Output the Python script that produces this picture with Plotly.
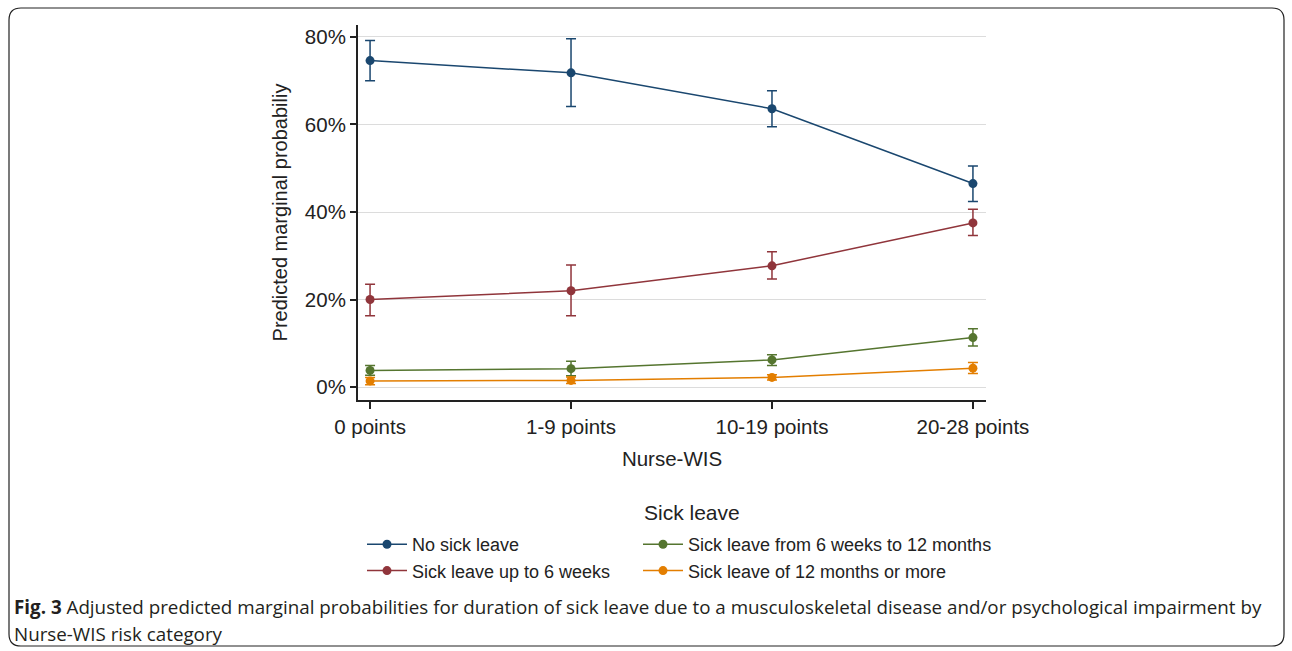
import plotly.graph_objects as go

categories = ["0 points", "1-9 points", "10-19 points", "20-28 points"]
series_names = ["No sick leave", "Sick leave up to 6 weeks",
                "Sick leave from 6 weeks to 12 months", "Sick leave of 12 months or more"]
no_sick = [74.6, 71.8, 63.6, 46.5]
no_sick_hi = [79.2, 79.6, 67.7, 50.5]
no_sick_lo = [70.0, 64.1, 59.5, 42.4]
up6 = [20.0, 22.0, 27.7, 37.5]
up6_hi = [23.5, 27.9, 30.9, 40.6]
up6_lo = [16.3, 16.3, 24.7, 34.6]
w6_12 = [3.8, 4.2, 6.2, 11.3]
w6_12_hi = [4.9, 5.9, 7.4, 13.3]
w6_12_lo = [2.7, 2.6, 4.9, 9.4]
m12 = [1.4, 1.5, 2.2, 4.3]
m12_hi = [2.2, 2.3, 2.8, 5.6]
m12_lo = [0.5, 0.8, 1.6, 3.1]
colors = ["#1a476f", "#90353b", "#55752f", "#e37e00"]
legend_ids = ["legend", "legend", "legend2", "legend2"]

W, H = 1292, 651
L, R, T, B = 358, 306, 25, 251
PW, PH = W - L - R, H - T - B

def px2paper(x, y):
    return (x - L) / PW, (H - B - y) / PH

fig = go.Figure()
data = [(no_sick, no_sick_hi, no_sick_lo), (up6, up6_hi, up6_lo),
        (w6_12, w6_12_hi, w6_12_lo), (m12, m12_hi, m12_lo)]
for i, (name, (v, hi, lo), c, lg) in enumerate(zip(series_names, data, colors, legend_ids)):
    fig.add_trace(go.Scatter(
        x=list(range(len(categories))), y=v, name=name, mode="lines+markers",
        legend=lg, legendgroup=f"g{i}",
        line=dict(color=c, width=1.5),
        marker=dict(color=c, size=9, symbol="circle"),
        error_y=dict(type="data", symmetric=False,
                     array=[h - m for h, m in zip(hi, v)],
                     arrayminus=[m - l for m, l in zip(v, lo)],
                     color=c, thickness=1.5, width=5),
    ))

# Figure border (rounded rectangle)
r = 12
x0, y0, x1, y1 = 9, 8, 1284, 646
def P(x, y):
    a, b = px2paper(x, y)
    return f"{a:.5f},{b:.5f}"
path = (f"M {P(x0 + r, y0)} L {P(x1 - r, y0)} Q {P(x1, y0)} {P(x1, y0 + r)} "
        f"L {P(x1, y1 - r)} Q {P(x1, y1)} {P(x1 - r, y1)} "
        f"L {P(x0 + r, y1)} Q {P(x0, y1)} {P(x0, y1 - r)} "
        f"L {P(x0, y0 + r)} Q {P(x0, y0)} {P(x0 + r, y0)} Z")
fig.add_shape(type="path", path=path, xref="paper", yref="paper",
              line=dict(color="#222222", width=1.2), layer="below")

caption_lines = [
    "<b>Fig. 3</b> Adjusted predicted marginal probabilities for duration of sick leave due to a musculoskeletal disease and/or psychological impairment by",
    "Nurse-WIS risk category",
]
for text, ypx in zip(caption_lines, [607, 634]):
    cx, cy = px2paper(12, ypx)
    fig.add_annotation(
        x=cx, y=cy, xref="paper", yref="paper", xanchor="left", yanchor="middle",
        align="left", showarrow=False, text=text,
        font=dict(family="Open Sans, Liberation Sans", size=18.8, color="#231f20"),
    )

tx, ty = px2paper(692, 512)
fig.add_annotation(x=tx, y=ty, xref="paper", yref="paper", xanchor="center", yanchor="middle",
                   showarrow=False, text="Sick leave", font=dict(size=21, color="#222222"))

l1x, l1y = px2paper(362, 526)
l2x, l2y = px2paper(638, 526)
legend_common = dict(orientation="v", yanchor="top", xanchor="left",
                     font=dict(size=18, color="#222222"), tracegroupgap=0,
                     itemwidth=40, bgcolor="rgba(0,0,0,0)")

fig.update_layout(
    width=W, height=H,
    margin=dict(l=L, r=R, t=T, b=B),
    paper_bgcolor="white", plot_bgcolor="white",
    font=dict(family="Liberation Sans, Arial", color="#222222"),
    showlegend=True,
    legend=dict(x=l1x, y=l1y, **legend_common),
    legend2=dict(x=l2x, y=l2y, **legend_common),
    xaxis=dict(
        range=[-0.06, 3.065], tickmode="array", tickvals=list(range(len(categories))),
        ticktext=categories, showgrid=False, zeroline=False,
        showline=True, linecolor="#222222", linewidth=2,
        ticks="outside", ticklen=7, tickwidth=1.5, tickcolor="#222222",
        tickfont=dict(size=20.5), title=dict(text="Nurse-WIS", font=dict(size=20.5), standoff=15),
    ),
    yaxis=dict(
        range=[-2.97, 82.74], tickmode="array", tickvals=[0, 20, 40, 60, 80],
        ticktext=["0%", "20%", "40%", "60%", "80%"],
        showgrid=True, gridcolor="#dcdcdc", gridwidth=1.2, zeroline=False,
        showline=True, linecolor="#222222", linewidth=2,
        ticks="outside", ticklen=6, tickwidth=1.5, tickcolor="#222222",
        tickfont=dict(size=20.5),
        title=dict(text="Predicted marginal probabiliy", font=dict(size=20), standoff=12),
    ),
)

fig.write_html("out.html", config={"displayModeBar": False},
               post_script="document.body.style.margin='0';")
